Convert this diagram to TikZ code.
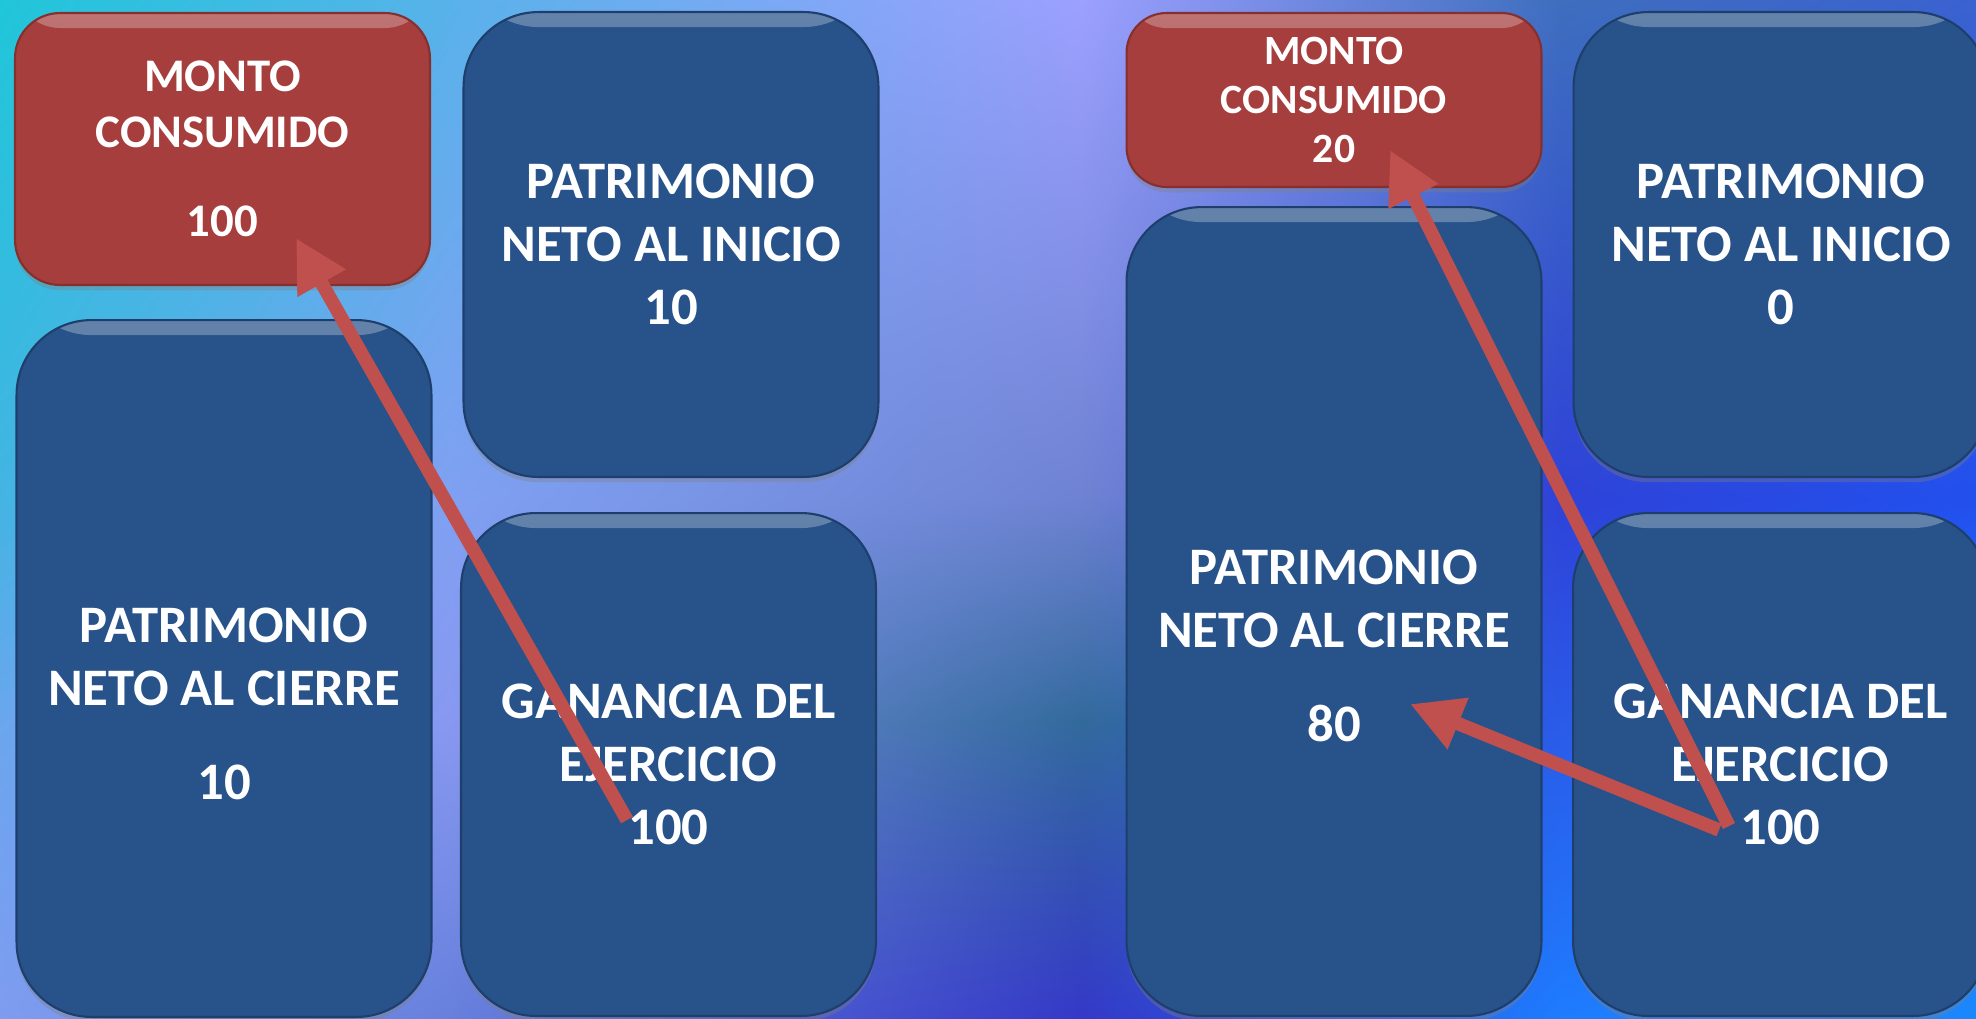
\documentclass[tikz,border=0pt]{standalone}
\usepackage{fontspec}
\setmainfont{Carlito}
\newfontfamily\panelfont{Carlito-Bold.ttf}
\usetikzlibrary{arrows.meta,shadings,shadows}

\definecolor{boxblue}{HTML}{27528A}
\definecolor{boxedge}{HTML}{1E3F6C}
\definecolor{boxred}{HTML}{A53E3D}
\definecolor{rededge}{HTML}{85302F}
\definecolor{arrowred}{HTML}{C0504D}
% background colours, columns 0..4, rows 0..3
\definecolor{bg00}{HTML}{1FC6D9}\definecolor{bg10}{HTML}{58B2EA}\definecolor{bg20}{HTML}{9CA0FF}\definecolor{bg30}{HTML}{3E6EBE}\definecolor{bg40}{HTML}{3A62D0}
\definecolor{bg01}{HTML}{43B4E3}\definecolor{bg11}{HTML}{80A0F2}\definecolor{bg21}{HTML}{6E82D2}\definecolor{bg31}{HTML}{2E42D8}\definecolor{bg41}{HTML}{2250EE}
\definecolor{bg02}{HTML}{6AA6EE}\definecolor{bg12}{HTML}{8898F0}\definecolor{bg22}{HTML}{326A9C}\definecolor{bg32}{HTML}{2A5AE8}\definecolor{bg42}{HTML}{1E72FF}
\definecolor{bg03}{HTML}{7E9CF0}\definecolor{bg13}{HTML}{6680DC}\definecolor{bg23}{HTML}{3438C8}\definecolor{bg33}{HTML}{1E7CFF}\definecolor{bg43}{HTML}{1A88FF}

\tikzset{
  rim/.style={path picture={\shade[top color=#1!72!white, bottom color=#1]
    (path picture bounding box.north west) rectangle ([yshift=-0.3cm]path picture bounding box.north east);}},
  panel/.style={draw=boxedge, line width=1.2pt, fill=boxblue, rim=boxblue, rounded corners=1.5cm,
    minimum width=8.3cm, text=white, align=center,
    font=\panelfont\fontsize{30}{36}\selectfont,
    drop shadow={shadow xshift=0pt, shadow yshift=-3pt, opacity=0.35}},
  redpanel/.style={panel, draw=rededge, fill=boxred, rim=boxred, rounded corners=0.9cm},
  paneltext/.style={text=white, align=center, font=\panelfont\fontsize{30}{36}\selectfont},
  flow/.style={draw=arrowred, line width=0.27cm,
    -{Triangle[length=1.04cm, width=1.04cm]}}
}

\begin{document}
\begin{tikzpicture}[x=0.02cm, y=-0.02cm]
    \useasboundingbox (0,0) rectangle (1976,1018);
    % background
    \foreach \i/\xa/\xb in {0/0/450,1/450/1080,2/1080/1560,3/1560/1976}{
        \foreach \j/\ya/\yb in {0/0/500,1/500/720,2/720/1018}{
            \pgfmathtruncatemacro{\ii}{\i+1}
            \pgfmathtruncatemacro{\jj}{\j+1}
            \shade[upper left=bg\i\j, upper right=bg\ii\j, lower left=bg\i\jj, lower right=bg\ii\jj]
                (\xa,\ya) rectangle (\xb+2,\yb+2);
        }
    }

    % left case
    \node[redpanel, minimum height=5.44cm, font=\panelfont\fontsize{26.6}{31.9}\selectfont]
        (montoL) at (222.5, 149) {MONTO\\CONSUMIDO\\[18.8pt]100};
    \node[panel, minimum height=9.3cm] (inicioL) at (671, 244.5) {PATRIMONIO\\NETO AL INICIO\\10};
    \node[panel, minimum height=13.94cm,
        label={[paneltext, yshift=-0.71cm]center:{PATRIMONIO\\NETO AL CIERRE\\[17.6pt]10}}]
        (cierreL) at (224, 668.5) {};
    \node[panel, minimum height=10.06cm] (gananciaL) at (668.5, 764.5) {GANANCIA DEL\\EJERCICIO\\100};

    % right case
    \node[redpanel, minimum height=3.48cm, rounded corners=0.8cm, font=\panelfont\fontsize{23.7}{27.9}\selectfont]
        (montoR) at (1334, 100) {MONTO\\CONSUMIDO\\20};
    \node[panel, minimum height=16.18cm,
        label={[paneltext, yshift=-0.69cm]center:{PATRIMONIO\\NETO AL CIERRE\\[17.6pt]80}}]
        (cierreR) at (1334, 611.5) {};
    \node[panel, minimum height=9.3cm] (inicioR) at (1781, 244.5) {PATRIMONIO\\NETO AL INICIO\\0};
    \node[panel, minimum height=10.06cm] (gananciaR) at (1780.5, 764.5) {GANANCIA DEL\\EJERCICIO\\100};

    % arrows
    \coordinate (fromL) at (627, 820);
    \coordinate (toL) at (296, 238);
    \coordinate (fromR1) at (1729, 826);
    \coordinate (toR1) at (1390, 150);
    \coordinate (fromR2) at (1719, 830);
    \coordinate (toR2) at (1410, 704);
    \draw [flow] (fromL) -- (toL);
    \draw [flow] (fromR1) -- (toR1);
    \draw [flow] (fromR2) -- (toR2);
\end{tikzpicture}
\end{document}
